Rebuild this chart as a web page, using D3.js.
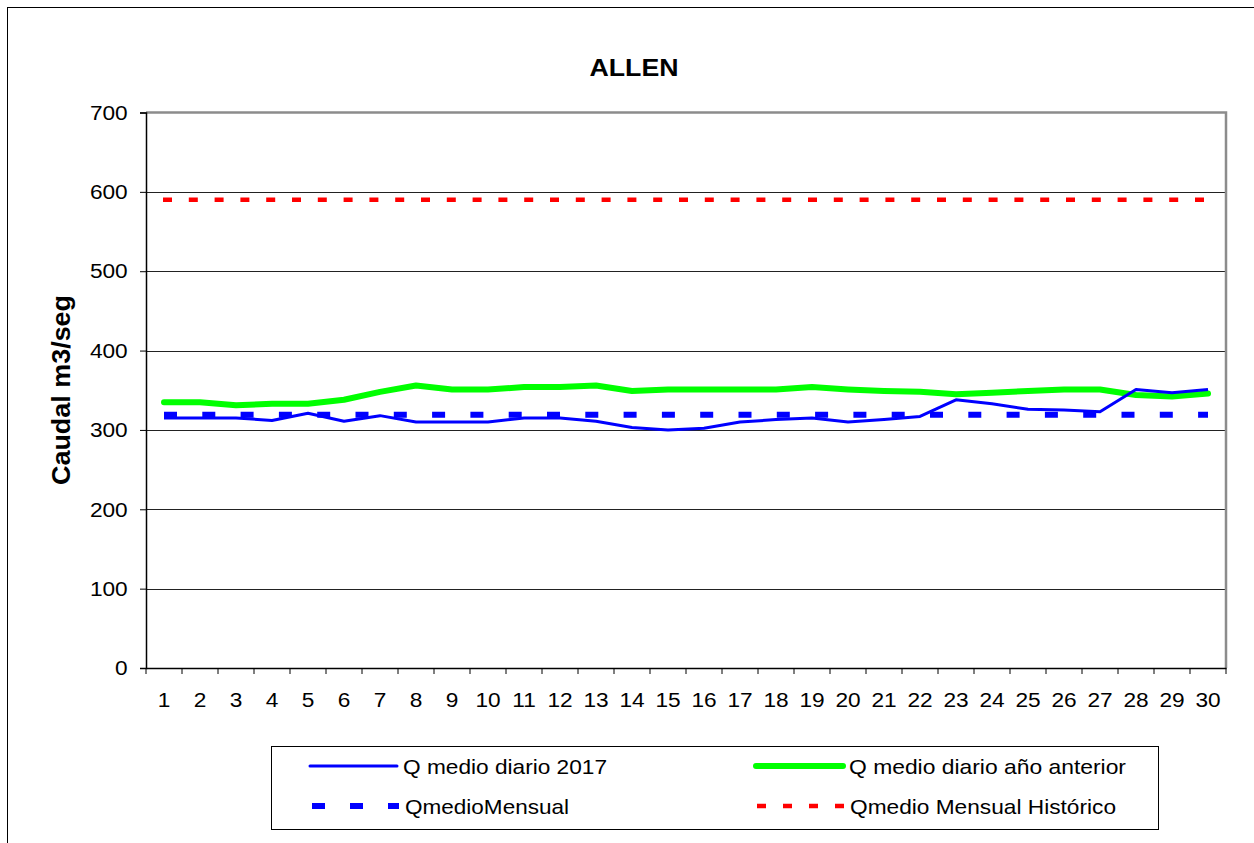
<!DOCTYPE html>
<html><head><meta charset="utf-8">
<script src="https://cdn.jsdelivr.net/npm/d3@7/dist/d3.min.js"></script>
<style>body{margin:0;background:#fff}svg{display:block;font-family:"Liberation Sans",Arial,sans-serif}</style>
</head><body><svg id="c" width="1254" height="843"></svg>
<script>
const days = d3.range(1, 31).map(String);
const q2017 = [315,315,315,312,321,311,318,310,310,310,315,315,311,303,300,302,310,313,315,310,313,317,338,333,326,325,323,351,347,351];
const qPrev = [335,335,331,333,333,338,348,356,351,351,354,354,356,349,351,351,351,351,354,351,349,348,345,347,349,351,351,344,342,346];
const qMensual = days.map(() => 319);
const qHistorico = days.map(() => 590);
const yTicks = [0,100,200,300,400,500,600,700];
const seriesNames = ["Q medio diario 2017","Q medio diario año anterior","QmedioMensual","Qmedio Mensual Histórico"];

const svg = d3.select("#c");
const L=146, R=1226, T=112.5, B=668;
const x = d3.scaleBand().domain(days).range([L,R]);
const y = d3.scaleLinear().domain([0,700]).range([B,T]);

svg.append("rect").attr("x",7.5).attr("y",7.5).attr("width",1270).attr("height",860)
  .attr("fill","none").attr("stroke","#000").attr("stroke-width",1);

svg.append("text").attr("x",634).attr("y",76).attr("text-anchor","middle")
  .attr("font-size",24).attr("font-weight","bold")
  .attr("textLength",89).attr("lengthAdjust","spacingAndGlyphs").text("ALLEN");

// gridlines
svg.append("g").selectAll("line").data(yTicks.filter(v=>v>0 && v<700)).join("line")
  .attr("x1",L).attr("x2",R).attr("y1",d=>Math.round(y(d))+0.5).attr("y2",d=>Math.round(y(d))+0.5)
  .attr("stroke","#222").attr("stroke-width",1);
svg.append("path").attr("d",`M${L},${T}H${R}V${B}`).attr("fill","none").attr("stroke","#8c8c8c").attr("stroke-width",2.5);

// y axis
const ya = svg.append("g").attr("transform",`translate(${L},0)`)
  .call(d3.axisLeft(y).tickValues(yTicks).tickSize(6).tickPadding(10).tickFormat(d3.format("d")));
ya.select(".domain").attr("stroke","#000").attr("stroke-width",1.5);
ya.selectAll(".tick line").attr("stroke","#000");
ya.selectAll("text").attr("font-size",21).attr("fill","#000").attr("font-family","Liberation Sans, Arial, sans-serif")
  .attr("transform","translate(-1,0) scale(1.08,1)");

// x axis
const xa = svg.append("g").attr("transform",`translate(0,${B})`)
  .call(d3.axisBottom(x).tickSize(0).tickPadding(24));
xa.select(".domain").attr("stroke","#000").attr("stroke-width",1.5);
xa.selectAll("text").attr("font-size",21).attr("fill","#000").attr("font-family","Liberation Sans, Arial, sans-serif")
  .attr("transform","scale(1.08,1)");
svg.append("g").selectAll("line").data(d3.range(0,31)).join("line")
  .attr("x1",i=>L+i*x.step()).attr("x2",i=>L+i*x.step()).attr("y1",B).attr("y2",B+6)
  .attr("stroke","#000");

svg.append("text").attr("transform","translate(70,390) rotate(-90)").attr("text-anchor","middle")
  .attr("font-size",25).attr("font-weight","bold")
  .attr("textLength",190).attr("lengthAdjust","spacingAndGlyphs").text("Caudal m3/seg");

const cx = d => x(d)+x.bandwidth()/2;
const line = vals => d3.line().x((v,i)=>cx(days[i])).y(v=>y(v))(vals);

svg.append("path").attr("d",line(qHistorico)).attr("fill","none").attr("stroke","#ff0000")
  .attr("stroke-width",4.5).attr("stroke-dasharray","9,16.8").attr("transform","translate(-1,0)");
svg.append("path").attr("d",line(qMensual)).attr("fill","none").attr("stroke","#0000ff")
  .attr("stroke-width",6).attr("stroke-dasharray","13,25.3");
svg.append("path").attr("d",line(qPrev)).attr("fill","none").attr("stroke","#00ff00")
  .attr("stroke-width",6).attr("stroke-linejoin","round").attr("stroke-linecap","round");
svg.append("path").attr("d",line(q2017)).attr("fill","none").attr("stroke","#0000ff")
  .attr("stroke-width",3).attr("stroke-linejoin","round");

// legend
const lg = svg.append("g");
lg.append("rect").attr("x",271.5).attr("y",746.5).attr("width",887).attr("height",83)
  .attr("fill","#fff").attr("stroke","#000").attr("stroke-width",1);
const items = [
  {n:seriesNames[0], x:310, y:766, c:"#0000ff", w:3, da:null, cap:"round", tl:204},
  {n:seriesNames[1], x:756, y:766, c:"#00ff00", w:6, da:null, cap:"round", tl:277},
  {n:seriesNames[2], x:312, y:806, c:"#0000ff", w:6, da:"13,25", cap:"butt", tl:164},
  {n:seriesNames[3], x:757, y:806, c:"#ff0000", w:4.5, da:"9,17", cap:"butt", tl:266}
];
items.forEach(it=>{
  lg.append("line").attr("x1",it.x).attr("x2",it.x+87).attr("y1",it.y).attr("y2",it.y)
    .attr("stroke",it.c).attr("stroke-width",it.w).attr("stroke-linecap",it.cap)
    .attr("stroke-dasharray",it.da);
  lg.append("text").attr("x",it.x+93).attr("y",it.y+7.5).attr("font-size",21)
    .attr("textLength",it.tl).attr("lengthAdjust","spacingAndGlyphs").text(it.n);
});
</script></body></html>
